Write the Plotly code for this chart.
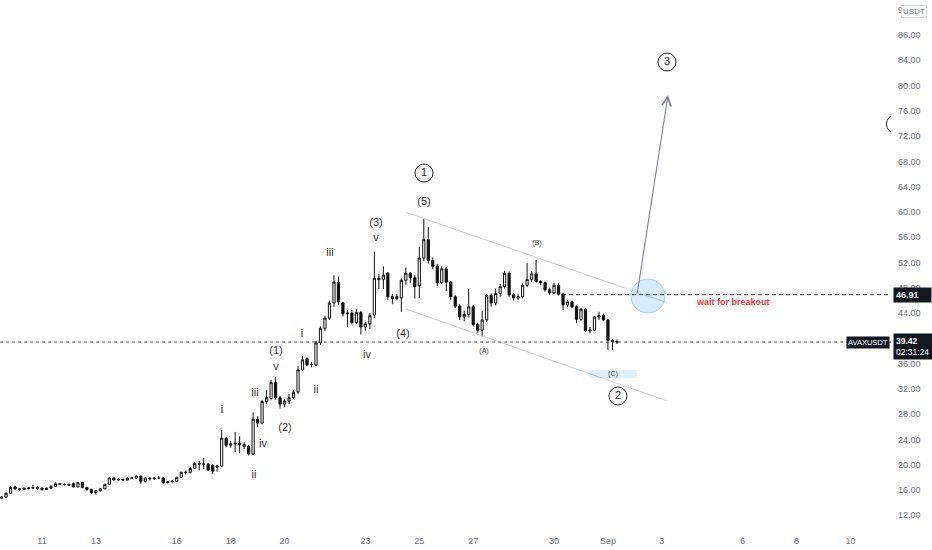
import pandas as pd
import plotly.graph_objects as go

# ---------------- data (4h candles, AVAXUSDT) ----------------
start_time = "2021-08-09 12:00"
opens = [14.7, 14.9, 15.5, 16.5, 16.2, 16.1, 16.3, 16.3, 16.4, 16.3, 16.1, 16.3, 16.6, 17.0, 16.9, 16.9,
         17.0, 16.5, 17.2, 16.4, 16.1, 15.6, 15.9, 16.2, 16.9, 17.9, 17.6, 17.7, 17.6, 17.9, 17.9, 18.2,
         17.4, 17.9, 17.8, 17.9, 17.9, 17.2, 17.3, 17.4, 18.0, 18.8, 18.8, 19.4, 20.2, 20.1, 20.1, 19.9,
         19.6, 19.8, 24.2, 23.1, 23.3, 23.4, 23.2, 22.9, 21.7, 27.2, 26.6, 30.0, 30.5, 33.0, 30.6, 29.6,
         30.1, 30.6, 31.5, 35.0, 36.8, 35.8, 35.8, 39.3, 41.6, 43.2, 45.6, 48.9, 45.6, 43.9, 44.0, 42.5,
         44.1, 41.8, 42.3, 43.7, 49.5, 49.3, 50.3, 46.6, 46.3, 46.4, 49.2, 50.3, 49.6, 48.3, 52.7, 55.6,
         52.3, 51.4, 48.8, 51.0, 48.9, 46.6, 45.1, 43.4, 43.8, 45.0, 42.2, 41.3, 42.9, 46.8, 45.6, 47.1,
         48.2, 50.3, 46.9, 46.4, 46.6, 48.4, 49.3, 50.2, 49.0, 48.8, 47.7, 47.2, 48.4, 47.0, 45.3, 45.8,
         45.0, 43.0, 44.6, 41.2, 41.3, 43.4, 43.6, 42.9, 39.7, 39.5]
highs = [15.0, 15.6, 16.6, 16.7, 16.3, 16.4, 16.5, 16.8, 16.7, 16.4, 16.4, 16.7, 17.2, 17.1, 17.0, 17.0,
         17.2, 17.3, 17.3, 16.5, 16.2, 16.0, 16.3, 17.0, 18.0, 18.0, 17.9, 17.8, 18.0, 18.1, 18.3, 18.3,
         18.0, 18.0, 18.1, 18.2, 18.0, 17.4, 17.6, 18.1, 18.9, 19.1, 19.6, 20.4, 20.6, 21.1, 20.3, 20.1,
         20.0, 25.5, 24.4, 23.8, 25.2, 24.5, 23.6, 23.1, 28.3, 27.7, 30.3, 31.8, 33.4, 33.9, 30.9, 30.4,
         31.2, 31.8, 35.6, 37.2, 37.0, 36.3, 39.6, 41.9, 43.6, 46.0, 50.0, 49.8, 45.8, 44.5, 44.5, 44.6,
         44.3, 42.6, 44.0, 53.7, 50.2, 51.4, 50.5, 47.0, 47.0, 49.5, 51.2, 50.5, 50.0, 54.5, 59.0, 57.6,
         52.8, 51.8, 51.4, 51.3, 49.1, 46.8, 45.4, 44.4, 47.8, 45.3, 42.5, 44.3, 47.0, 47.1, 47.9, 48.6,
         50.7, 50.6, 47.2, 47.0, 48.7, 51.9, 50.6, 52.4, 49.2, 49.0, 48.0, 48.8, 48.7, 47.2, 46.1, 46.0,
         45.2, 44.8, 44.8, 41.8, 43.6, 44.2, 43.9, 43.0, 39.9, 39.8]
lows = [14.6, 14.8, 15.4, 16.0, 15.9, 16.0, 16.1, 16.2, 16.0, 15.9, 16.0, 16.2, 16.5, 16.8, 16.7, 16.7,
        16.4, 16.4, 16.3, 15.9, 15.4, 15.3, 15.8, 16.1, 16.8, 17.5, 17.5, 17.5, 17.5, 17.8, 17.8, 17.0,
        17.2, 17.5, 17.6, 17.7, 17.0, 17.0, 17.2, 17.3, 17.9, 18.5, 18.6, 19.3, 19.1, 19.3, 19.0, 18.5,
        18.9, 19.7, 22.8, 22.7, 22.0, 21.8, 22.5, 21.5, 21.6, 26.0, 26.4, 29.6, 30.2, 30.3, 28.9, 29.1,
        29.6, 30.4, 31.2, 34.8, 35.6, 35.4, 35.6, 39.0, 41.2, 42.9, 45.0, 45.3, 43.5, 41.8, 42.2, 42.3,
        40.6, 41.2, 41.5, 43.2, 47.8, 47.8, 46.1, 45.4, 46.0, 44.2, 48.5, 48.8, 46.3, 46.4, 52.2, 51.8,
        50.9, 48.3, 48.6, 47.5, 46.1, 44.8, 42.9, 42.7, 43.3, 41.9, 40.9, 40.3, 42.6, 45.0, 45.2, 46.6,
        47.9, 46.6, 46.0, 46.1, 46.3, 48.1, 48.9, 48.8, 48.4, 47.4, 46.9, 47.0, 46.8, 44.5, 45.0, 44.8,
        42.4, 42.8, 41.0, 40.8, 41.1, 42.9, 42.7, 38.2, 38.2, 39.1]
closes = [14.9, 15.5, 16.4, 16.2, 16.1, 16.3, 16.3, 16.4, 16.3, 16.1, 16.3, 16.6, 17.0, 16.9, 16.9, 16.8,
          16.5, 17.2, 16.4, 16.1, 15.6, 15.9, 16.2, 16.9, 17.9, 17.6, 17.7, 17.6, 17.9, 17.9, 18.2, 17.4,
          17.9, 17.8, 17.9, 17.9, 17.2, 17.3, 17.4, 18.0, 18.8, 18.8, 19.4, 20.2, 20.1, 20.1, 19.2, 19.0,
          19.8, 24.2, 23.1, 23.3, 23.4, 23.2, 22.9, 21.7, 27.2, 26.6, 30.0, 30.6, 33.0, 30.6, 29.6, 30.1,
          30.6, 31.5, 35.0, 36.6, 35.8, 35.9, 39.3, 41.6, 43.2, 45.6, 48.9, 45.8, 43.9, 44.0, 42.5, 44.1,
          41.8, 42.3, 43.6, 49.5, 49.3, 50.0, 46.6, 46.3, 46.6, 49.2, 50.3, 49.6, 48.2, 52.7, 55.6, 52.3,
          51.4, 48.8, 51.0, 48.9, 46.6, 45.1, 43.4, 43.8, 45.0, 42.2, 41.3, 42.9, 46.8, 45.6, 47.1, 48.2,
          50.3, 46.9, 46.4, 46.6, 48.4, 49.3, 50.2, 49.0, 48.8, 47.7, 47.2, 48.4, 47.0, 45.3, 45.8, 45.0,
          43.0, 44.6, 41.2, 41.3, 43.4, 43.6, 42.9, 39.7, 39.5, 39.42]

last_price = 39.42
breakout_level = 46.91

# x-axis tick labels
xtick_dates = ["2021-08-11", "2021-08-13", "2021-08-16", "2021-08-18", "2021-08-20", "2021-08-23",
               "2021-08-25", "2021-08-27", "2021-08-30", "2021-09-01", "2021-09-03", "2021-09-06",
               "2021-09-08", "2021-09-10"]
xtick_text = ["11", "13", "16", "18", "20", "23", "25", "27", "30", "Sep", "3", "6", "8", "10"]
# price-axis ticks (40.00 sits fully under the last-price box, so it is not printed)
ytick_vals = [12, 16, 20, 24, 28, 32, 36, 44, 48, 52, 56, 60, 64, 68, 72, 76, 80, 84, 88, 92]

# Elliott wave labels
wave_text = ["i", "ii", "iii", "iv", "v", "(1)", "(2)", "i", "ii", "iii", "iv", "v", "(3)", "(4)", "(5)"]
wave_x = ["2021-08-17 16:18", "2021-08-18 20:48", "2021-08-18 21:42", "2021-08-19 04:48",
          "2021-08-19 16:24", "2021-08-19 16:24", "2021-08-20 00:24", "2021-08-20 15:30",
          "2021-08-21 04:00", "2021-08-21 16:30", "2021-08-23 01:24", "2021-08-23 09:24",
          "2021-08-23 09:24", "2021-08-24 09:30", "2021-08-25 04:12"]
wave_y = [28.66, 18.38, 31.35, 23.28, 35.47, 38.0, 25.8, 40.69, 31.83, 53.5, 37.37, 55.9, 58.25,
          40.69, 61.58]

abc_text = ["(A)", "(B)", "(C)"]
abc_x = ["2021-08-27 09:36", "2021-08-29 08:48", "2021-09-01 04:30"]
abc_y = [38.0, 55.09, 34.36]

circ_text = ["1", "2", "3", ""]
circ_x = ["2021-08-25 04:12", "2021-09-01 08:54", "2021-09-03 04:36", "2021-09-11 16:00"]
circ_y = [66.16, 30.88, 83.73, 73.92]

x_range = ["2021-08-09 10:36", "2021-09-11 12:04"]
y_range = [9.68, 93.54]

FONT = "Liberation Sans, Arial, sans-serif"

times = pd.date_range(start_time, periods=len(opens), freq="4h")

fig = go.Figure()

fig.add_trace(go.Candlestick(
    x=times, open=opens, high=highs, low=lows, close=closes,
    increasing=dict(line=dict(color="#111111", width=1), fillcolor="#ffffff"),
    decreasing=dict(line=dict(color="#111111", width=1), fillcolor="#111111"),
    whiskerwidth=0, hoverinfo="skip", showlegend=False))

fig.add_trace(go.Scatter(
    x=wave_x, y=wave_y, mode="text", text=wave_text, textposition="middle center",
    textfont=dict(family=FONT, size=11, color="#333333"), hoverinfo="skip", showlegend=False))

fig.add_trace(go.Scatter(
    x=abc_x, y=abc_y, mode="text", text=abc_text, textposition="middle center",
    textfont=dict(family=FONT, size=7, color="#444444"), hoverinfo="skip", showlegend=False))

fig.add_trace(go.Scatter(
    x=circ_x, y=circ_y, mode="markers+text", text=circ_text, textposition="middle center",
    marker=dict(symbol="circle-open", size=18, color="#222222", line=dict(width=1, color="#222222")),
    textfont=dict(family=FONT, size=11, color="#222222"), hoverinfo="skip", showlegend=False,
    cliponaxis=True))

shapes = []
# channel lines
shapes.append(dict(type="line", xref="x", yref="y", x0="2021-08-24 12:06", y0=59.95,
                   x1="2021-09-03 04:36", y1=45.66, line=dict(color="#cfd1d6", width=1)))
shapes.append(dict(type="line", xref="x", yref="y", x0="2021-08-24 12:06", y0=44.65,
                   x1="2021-09-03 04:36", y1=30.1, line=dict(color="#cfd1d6", width=1)))
# last price dotted line
shapes.append(dict(type="line", xref="paper", yref="y", x0=0, x1=1, y0=last_price, y1=last_price,
                   line=dict(color="#555555", width=1, dash="dot")))
# breakout dashed line
shapes.append(dict(type="line", xref="x", yref="y", x0="2021-08-30 07:06", x1=x_range[1],
                   y0=breakout_level, y1=breakout_level,
                   line=dict(color="#333333", width=1, dash="4px,3px")))
# (C) highlight
shapes.append(dict(type="rect", xref="x", yref="y", x0="2021-08-31 08:00", x1="2021-09-02 01:48",
                   y0=33.73, y1=34.99, fillcolor="rgba(33,150,243,0.15)", line=dict(width=0)))
# blue breakout circle
shapes.append(dict(type="circle", xref="x", yref="y", xsizemode="pixel", ysizemode="pixel",
                   xanchor="2021-09-02 11:36", yanchor=46.7, x0=-17, x1=17, y0=-17, y1=17,
                   fillcolor="rgba(33,150,243,0.18)", line=dict(color="rgba(33,150,243,0.35)", width=1)))

annotations = []
annotations.append(dict(x="2021-09-03 05:30", y=78.5, ax="2021-09-02 01:48", ay=46.86,
                        xref="x", yref="y", axref="x", ayref="y", text="", showarrow=True,
                        arrowhead=5, arrowsize=1.6, arrowwidth=1.1, arrowcolor="#80838c"))
annotations.append(dict(x="2021-09-05 15:18", y=45.75, xref="x", yref="y", text="<b>wait for breakout</b>",
                        showarrow=False, font=dict(family=FONT, size=9, color="#f23645")))
annotations.append(dict(x=1.0022, y=breakout_level, xref="paper", yref="y", xanchor="left",
                        text="<b>46.91</b>", showarrow=False, bgcolor="#131722", borderpad=2,
                        width=33, align="left", font=dict(family=FONT, size=9, color="#ffffff")))
annotations.append(dict(x=1.0022, y=38.71, xref="paper", yref="y", xanchor="left",
                        text="<b>39.42</b><br>02:31:24", showarrow=False, bgcolor="#131722", borderpad=2,
                        width=34, align="left", font=dict(family=FONT, size=8.5, color="#ffffff")))
annotations.append(dict(x=0.999, y=last_price, xref="paper", yref="y", xanchor="right",
                        text="AVAXUSDT", showarrow=False, bgcolor="#131722", borderpad=1,
                        font=dict(family=FONT, size=7.5, color="#ffffff")))
annotations.append(dict(x=1.0114, y=0.990, xref="paper", yref="paper", xanchor="left",
                        text="USDT", showarrow=False, bgcolor="#ffffff", bordercolor="#d6d8de",
                        borderwidth=1, borderpad=1, font=dict(family=FONT, size=8, color="#6f7280")))

fig.update_layout(
    width=932, height=550,
    margin=dict(l=0, r=41, t=0, b=20),
    paper_bgcolor="#ffffff", plot_bgcolor="#ffffff",
    shapes=shapes, annotations=annotations,
    font=dict(family=FONT),
    xaxis=dict(type="date", range=x_range, rangeslider=dict(visible=False), showgrid=False,
               zeroline=False, showline=False, ticks="", tickmode="array", tickvals=xtick_dates,
               ticktext=xtick_text, tickfont=dict(size=9, color="#6f7280"), ticklabelstandoff=4),
    yaxis=dict(side="right", range=y_range, showgrid=False, zeroline=False, showline=False,
               ticks="", tickmode="array", tickvals=ytick_vals,
               ticktext=["%.2f" % v for v in ytick_vals], tickfont=dict(size=9, color="#6f7280"),
               ticklabelstandoff=6),
)

fig.write_html("out.html", config={"displayModeBar": False},
               post_script="document.body.style.margin='0';document.body.style.overflow='hidden';")
